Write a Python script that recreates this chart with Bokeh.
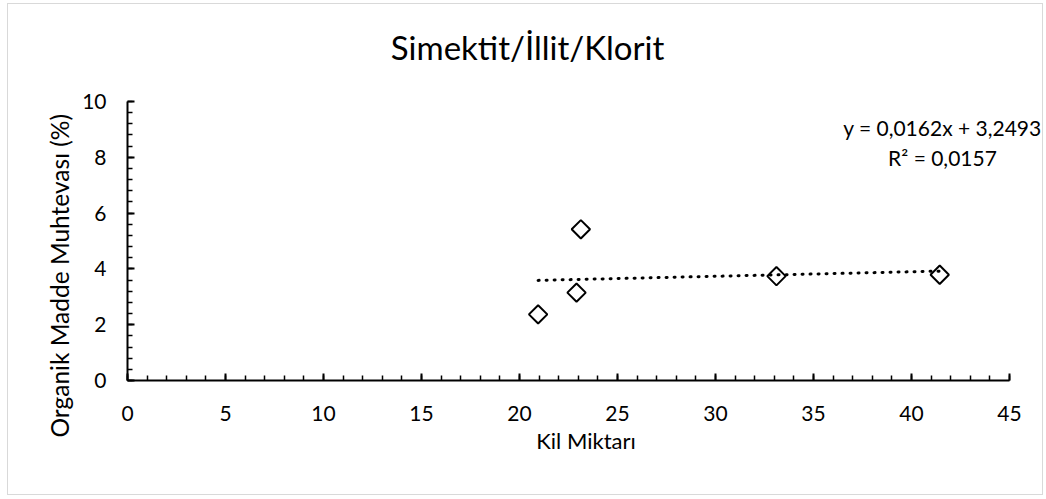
from bokeh.plotting import figure
from bokeh.models import Range1d, SingleIntervalTicker, Label, Title
from bokeh.embed import file_html
from bokeh.resources import INLINE
import math

# ---- data ----
kil_miktari = [20.95, 22.91, 23.13, 33.11, 41.44]
organik_madde = [2.37, 3.15, 5.42, 3.74, 3.79]
trend_slope = 0.0162
trend_intercept = 3.2493
r_squared = 0.0157
title_text = "Simektit/İllit/Klorit"
x_label = "Kil Miktarı"
y_label = "Organik Madde Muhtevası (%)"
eq_line1 = "y = 0,0162x + 3,2493"
eq_line2 = "R² = 0,0157"
x_axis_max = 45
y_axis_max = 10

FONT = "Lato"

W, H = 1036, 492
LEFT, BOTTOM = 119, 116
x_axis_px = 882   # pixel length of the 0-45 x axis
y_axis_px = 279   # pixel length of the 0-10 y axis
frame_w = W - LEFT
frame_h = H - BOTTOM
# the frame reaches the right and top edges so texts placed there are not clipped;
# the axes themselves are bounded to 0-45 and 0-10
x_end = x_axis_max * frame_w / x_axis_px
y_end = y_axis_max * frame_h / y_axis_px

p = figure(width=W, height=H,
           x_range=Range1d(0, x_end), y_range=Range1d(0, y_end),
           output_backend="svg", toolbar_location=None,
           min_border_left=LEFT, min_border_right=0,
           min_border_top=0, min_border_bottom=BOTTOM)
p.styles = {"border": "1px solid #d9d9d9", "margin-left": "7px", "margin-top": "3px"}
p.background_fill_color = "white"
p.border_fill_color = "white"
p.outline_line_color = None
p.grid.visible = False

p.xaxis.ticker = SingleIntervalTicker(interval=5, num_minor_ticks=5)
p.yaxis.ticker = SingleIntervalTicker(interval=2, num_minor_ticks=5)
p.xaxis.bounds = (0, x_axis_max)
p.yaxis.bounds = (0, y_axis_max)
for ax in (p.xaxis[0], p.yaxis[0]):
    ax.axis_line_color = "black"
    ax.axis_line_width = 2
    ax.major_tick_line_color = "black"
    ax.minor_tick_line_color = "black"
    ax.major_tick_line_width = 2
    ax.minor_tick_line_width = 1.5
    ax.major_tick_in = 7
    ax.major_tick_out = 0
    ax.minor_tick_in = 5
    ax.minor_tick_out = 0
    ax.major_label_text_font = FONT
    ax.major_label_text_font_size = "21px"
    ax.major_label_text_color = "black"
    ax.axis_label_text_font = FONT
    ax.axis_label_text_font_style = "normal"
    ax.axis_label_text_color = "black"

p.xaxis.axis_label = x_label
p.xaxis.axis_label_text_font_size = "22px"
p.xaxis.major_label_standoff = 25
p.yaxis.major_label_standoff = 21
p.xaxis.axis_label_standoff = 3

# y title as a side title, placed lower than the axis centre as in the reference
ytitle = Title(text=y_label, align="left", offset=-57, standoff=11,
               text_font=FONT, text_font_size="24.5px", text_font_style="normal",
               text_color="black")
p.add_layout(ytitle, "left")

# chart title
p.add_layout(Label(x=20.41, y=11.94, text=title_text, text_align="center",
                   text_baseline="middle", text_font=FONT,
                   text_font_size="33px", text_color="black"))

# trendline from the displayed regression equation over the data range
tx = [min(kil_miktari), max(kil_miktari)]
ty = [trend_slope * v + trend_intercept for v in tx]
p.line(tx, ty, line_color="black", line_width=3, line_dash="1 7", line_cap="round")

p.scatter(kil_miktari, organik_madde, marker="square", size=13, angle=math.pi / 4,
          fill_color="white", fill_alpha=0, line_color="black", line_width=2)

for txt, yy in ((eq_line1, 9.07), (eq_line2, 7.99)):
    p.add_layout(Label(x=41.58, y=yy, text=txt, text_align="center",
                       text_baseline="middle", text_font=FONT,
                       text_font_size="21px", text_color="black"))

open("out.html", "w").write(file_html(p, INLINE))
